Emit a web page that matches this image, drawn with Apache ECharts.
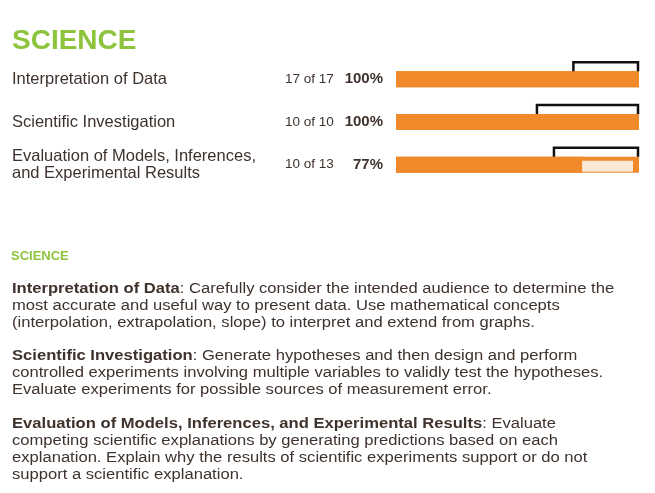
<!DOCTYPE html>
<html>
<head>
<meta charset="utf-8">
<title>Science</title>
<script src="https://cdn.jsdelivr.net/npm/echarts@6/dist/echarts.min.js"></script>
<style>
  html, body { margin: 0; padding: 0; background: #fff; }
  #chart { width: 655px; height: 493px; }
</style>
</head>
<body>
<div id="chart"></div>
<script>
// data
var categories = ['Interpretation of Data', 'Scientific Investigation', 'Evaluation of Models, Inferences,\nand Experimental Results']
var correct = [17, 10, 10]
var possible = [17, 10, 13]
var percent = [100, 100, 77]
var rangeStart = [73, 58, 65]   // left end of the black bracket, in %

var notes = [
  ['Interpretation of Data', ': Carefully consider the intended audience to determine the\nmost accurate and useful way to present data. Use mathematical concepts\n(interpolation, extrapolation, slope) to interpret and extend from graphs.'],
  ['Scientific Investigation', ': Generate hypotheses and then design and perform\ncontrolled experiments involving multiple variables to validly test the hypotheses.\nEvaluate experiments for possible sources of measurement error.'],
  ['Evaluation of Models, Inferences, and Experimental Results', ': Evaluate\ncompeting scientific explanations by generating predictions based on each\nexplanation. Explain why the results of scientific experiments support or do not\nsupport a scientific explanation.']
]

var green = '#8cc43c'
var orange = '#f0892a'
var ink = '#3e322d'
var font = '"Liberation Sans", Arial, sans-serif'

var myChart = echarts.init(document.getElementById('chart'))

var noteTops = [281, 348, 416]
var graphics = [
  { type: 'text', left: 12, top: 27, style: { text: 'SCIENCE', fill: green, font: 'bold 28px ' + font } },
  { type: 'text', left: 11, top: 250, style: { text: 'SCIENCE', fill: green, font: 'bold 13px ' + font } }
]
// the description text in the picture is stretched sideways, so scale it
notes.forEach(function (n, i) {
  graphics.push({
    type: 'text', left: 12, top: noteTops[i],
    scaleX: 1.185,
    style: {
      text: '{b|' + n[0] + '}' + n[1],
      fill: ink, font: '14px ' + font, lineHeight: 17,
      rich: { b: { fontWeight: 'bold', fontSize: 14, fontFamily: font, fill: ink, lineHeight: 17 } }
    }
  })
})

var option = {
  animation: false,
  grid: { left: 396, right: 16, top: 58, height: 128 },
  xAxis: { type: 'value', min: 0, max: 100, show: false },
  yAxis: {
    type: 'category',
    inverse: true,
    data: categories,
    axisLine: { show: false },
    axisTick: { show: false },
    axisLabel: {
      align: 'left',
      margin: 384,
      color: ink,
      fontSize: 16.5,
      fontFamily: font,
      lineHeight: 17
    }
  },
  series: [
    {
      type: 'bar',
      data: percent,
      barWidth: 16,
      showBackground: true,
      backgroundStyle: { color: orange },
      itemStyle: { color: orange },
      label: {
        show: true,
        position: 'left',
        distance: 13,
        formatter: function (p) {
          var i = p.dataIndex
          return '{a|' + correct[i] + ' of ' + possible[i] + '}{b|' + percent[i] + '%}'
        },
        rich: {
          a: { fontSize: 13.5, color: ink, fontFamily: font, width: 58, align: 'left' },
          b: { fontSize: 15, fontWeight: 'bold', color: ink, fontFamily: font, width: 40, align: 'right' }
        }
      },
      z: 2
    },
    {
      // unfilled part of the track and the black bracket above the bar
      type: 'custom',
      data: percent.map(function (v, i) { return [v, i, rangeStart[i]] }),
      renderItem: function (params, api) {
        var v = api.value(0)
        var cat = api.value(1)
        var start = api.value(2)
        var c = api.coord([0, cat])
        var top = c[1] - 8
        var pEnd = api.coord([100, cat])[0]
        var pVal = api.coord([v, cat])[0]
        var pStart = api.coord([start, cat])[0]
        var children = []
        if (v < 100) {
          children.push({
            type: 'rect',
            shape: { x: pVal - 1, y: top + 4, width: pEnd - pVal - 5, height: 11 },
            style: { fill: '#f9e8d5' }
          })
        }
        children.push({
          type: 'polyline',
          shape: { points: [[pStart, top], [pStart, top - 9], [pEnd - 1, top - 9], [pEnd - 1, top]] },
          style: { stroke: '#111', lineWidth: 2.5, fill: null }
        })
        return { type: 'group', children: children }
      },
      z: 3
    }
  ],
  graphic: graphics
}

option && myChart.setOption(option)
window.addEventListener('resize', function () {
  myChart.resize()
})
</script>
</body>
</html>
